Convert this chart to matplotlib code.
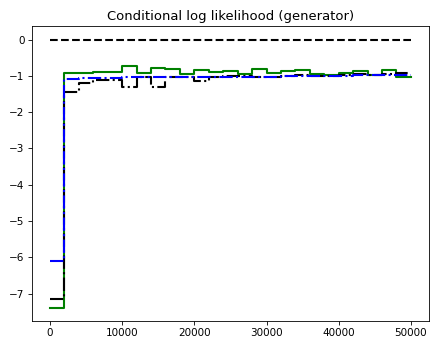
import numpy as np
import matplotlib
matplotlib.use("Agg")
import matplotlib.pyplot as plt

# ===== data =====
iters = np.arange(0, 50001, 2000)

ll_real = [0.0] * 26

ll_green = [-7.38, -0.93, -0.93, -0.89, -0.89, -0.73, -0.93, -0.78, -0.82, -0.95,
            -0.84, -0.89, -0.86, -0.95, -0.80, -0.92, -0.86, -0.83, -0.95, -0.97,
            -0.92, -0.86, -0.97, -0.84, -1.03, -1.03]

ll_black = [-7.13, -1.45, -1.20, -1.12, -1.12, -1.30, -1.03, -1.30, -1.02, -1.02,
            -1.13, -1.02, -1.00, -1.00, -1.02, -1.03, -1.00, -0.97, -1.00, -1.00,
            -0.98, -0.95, -0.97, -0.95, -0.93, -0.93]

ll_blue = [-6.10, -1.08, -1.07, -1.06, -1.05, -1.04, -1.04, -1.03, -1.03, -1.03,
           -1.02, -1.02, -1.02, -1.02, -1.02, -1.02, -1.01, -1.00, -1.00, -1.00,
           -1.00, -0.99, -0.99, -0.98, -0.98, -0.98]


fig = plt.figure(figsize=(439 / 75, 348 / 75), dpi=75)
ax = fig.add_axes([0.0729, 0.0776, 0.904, 0.8474])

ax.step(iters, ll_real, where="post", color="black", ls="--", lw=2)
ax.step(iters, ll_green, where="post", color="green", ls="-", lw=2)
ax.step(iters, ll_black, where="post", color="black", ls="-.", lw=2)
ax.step(iters, ll_blue, where="post", color="blue", ls="-.", lw=2)

ax.set_title("Conditional log likelihood (generator)", fontsize=12.6)
ax.set_yticks([0, -1, -2, -3, -4, -5, -6, -7])

fig.savefig("out.png", dpi=75)
